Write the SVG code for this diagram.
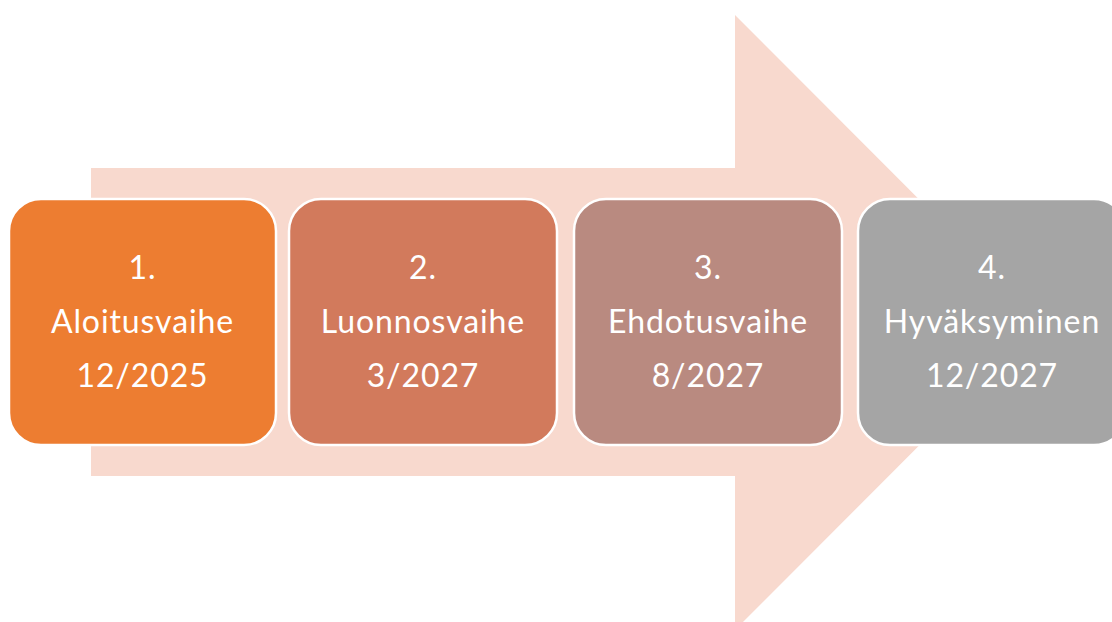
<svg xmlns="http://www.w3.org/2000/svg" width="1112" height="622" viewBox="0 0 1112 622">
<style>
.box{stroke:#fff;stroke-width:2.5}
.t{font-family:Lato,"Open Sans","Liberation Sans",sans-serif;font-size:32px;letter-spacing:0.9px;fill:#fff;text-anchor:middle}
</style>
<rect width="1112" height="622" fill="#fff"/>
<g id="arrow">
<polygon points="91,168 735,168 735,15 1042,322.5 735,630 735,476 91,476" fill="#F8D9CE"/>
</g>
<g id="connectors"></g>
<g id="n1">
<rect class="box" x="9" y="199" width="267" height="246" rx="32" fill="#ED7D31"/>
<text class="t" x="142.5" y="279">1.</text>
<text class="t" x="142.5" y="333">Aloitusvaihe</text>
<text class="t" x="142.5" y="387">12/2025</text>
</g>
<g id="n2">
<rect class="box" x="289" y="199" width="268" height="246" rx="32" fill="#D27A5C"/>
<text class="t" x="423" y="279">2.</text>
<text class="t" x="423" y="333">Luonnosvaihe</text>
<text class="t" x="423" y="387">3/2027</text>
</g>
<g id="n3">
<rect class="box" x="574" y="199" width="268" height="246" rx="32" fill="#B98A80"/>
<text class="t" x="708" y="279">3.</text>
<text class="t" x="708" y="333">Ehdotusvaihe</text>
<text class="t" x="708" y="387">8/2027</text>
</g>
<g id="n4">
<rect class="box" x="858" y="199" width="268" height="246" rx="32" fill="#A5A5A5"/>
<text class="t" x="992" y="279">4.</text>
<text class="t" x="992" y="333">Hyväksyminen</text>
<text class="t" x="992" y="387">12/2027</text>
</g>
</svg>
